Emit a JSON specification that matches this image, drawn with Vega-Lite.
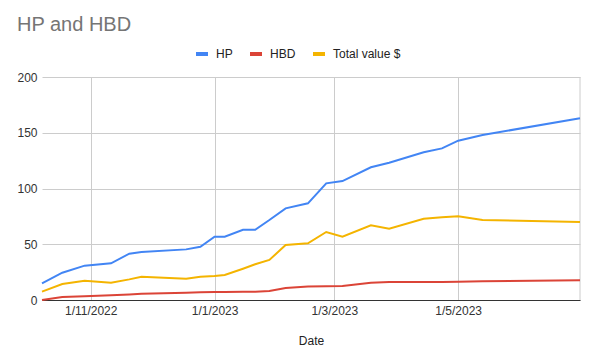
{
  "$schema": "https://vega.github.io/schema/vega-lite/v6.json",
  "width": 538,
  "height": 223,
  "autosize": "none",
  "padding": {"left": 42, "top": 77, "right": 11, "bottom": 58},
  "background": "white",
  "title": {
    "text": "HP and HBD",
    "anchor": "start",
    "frame": "group",
    "dx": -25,
    "fontSize": 20,
    "fontWeight": "normal",
    "font": "Arial, Liberation Sans",
    "color": "#757575",
    "offset": 11
  },
  "config": {
    "font": "Arial, Liberation Sans",
    "view": {"stroke": null}
  },
  "data": {
    "values": [
      {"date": "2022-10-08T00:00:00", "series": "HP", "value": 15},
      {"date": "2022-10-18T00:00:00", "series": "HP", "value": 24.5},
      {"date": "2022-10-29T00:00:00", "series": "HP", "value": 30.8},
      {"date": "2022-11-11T00:00:00", "series": "HP", "value": 32.9},
      {"date": "2022-11-20T00:00:00", "series": "HP", "value": 41.5},
      {"date": "2022-11-26T00:00:00", "series": "HP", "value": 43},
      {"date": "2022-12-18T00:00:00", "series": "HP", "value": 45.4},
      {"date": "2022-12-25T00:00:00", "series": "HP", "value": 47.8},
      {"date": "2023-01-01T00:00:00", "series": "HP", "value": 56.8},
      {"date": "2023-01-06T00:00:00", "series": "HP", "value": 56.8},
      {"date": "2023-01-15T00:00:00", "series": "HP", "value": 63},
      {"date": "2023-01-21T00:00:00", "series": "HP", "value": 63},
      {"date": "2023-01-28T00:00:00", "series": "HP", "value": 71.7},
      {"date": "2023-02-05T00:00:00", "series": "HP", "value": 82.2},
      {"date": "2023-02-16T00:00:00", "series": "HP", "value": 86.7},
      {"date": "2023-02-25T00:00:00", "series": "HP", "value": 104.6},
      {"date": "2023-03-05T00:00:00", "series": "HP", "value": 106.7},
      {"date": "2023-03-19T00:00:00", "series": "HP", "value": 119},
      {"date": "2023-03-28T00:00:00", "series": "HP", "value": 123.1},
      {"date": "2023-04-14T00:00:00", "series": "HP", "value": 132.5},
      {"date": "2023-04-23T00:00:00", "series": "HP", "value": 136},
      {"date": "2023-05-01T00:00:00", "series": "HP", "value": 142.9},
      {"date": "2023-05-13T00:00:00", "series": "HP", "value": 148},
      {"date": "2023-06-30T00:00:00", "series": "HP", "value": 163},
      {"date": "2022-10-08T00:00:00", "series": "HBD", "value": 0},
      {"date": "2022-10-18T00:00:00", "series": "HBD", "value": 2.7},
      {"date": "2022-10-29T00:00:00", "series": "HBD", "value": 3.3},
      {"date": "2022-11-11T00:00:00", "series": "HBD", "value": 4.2},
      {"date": "2022-11-20T00:00:00", "series": "HBD", "value": 5},
      {"date": "2022-11-26T00:00:00", "series": "HBD", "value": 5.7},
      {"date": "2022-12-18T00:00:00", "series": "HBD", "value": 6.6},
      {"date": "2022-12-25T00:00:00", "series": "HBD", "value": 6.9},
      {"date": "2023-01-01T00:00:00", "series": "HBD", "value": 7.2},
      {"date": "2023-01-06T00:00:00", "series": "HBD", "value": 7.2},
      {"date": "2023-01-15T00:00:00", "series": "HBD", "value": 7.3},
      {"date": "2023-01-21T00:00:00", "series": "HBD", "value": 7.3},
      {"date": "2023-01-28T00:00:00", "series": "HBD", "value": 8.1},
      {"date": "2023-02-05T00:00:00", "series": "HBD", "value": 10.8},
      {"date": "2023-02-16T00:00:00", "series": "HBD", "value": 12},
      {"date": "2023-02-25T00:00:00", "series": "HBD", "value": 12.3},
      {"date": "2023-03-05T00:00:00", "series": "HBD", "value": 12.6},
      {"date": "2023-03-19T00:00:00", "series": "HBD", "value": 15.5},
      {"date": "2023-03-28T00:00:00", "series": "HBD", "value": 16.1},
      {"date": "2023-04-14T00:00:00", "series": "HBD", "value": 16.1},
      {"date": "2023-04-23T00:00:00", "series": "HBD", "value": 16.2},
      {"date": "2023-05-01T00:00:00", "series": "HBD", "value": 16.4},
      {"date": "2023-05-13T00:00:00", "series": "HBD", "value": 16.8},
      {"date": "2023-06-30T00:00:00", "series": "HBD", "value": 17.7},
      {"date": "2022-10-08T00:00:00", "series": "Total value $", "value": 7.5},
      {"date": "2022-10-18T00:00:00", "series": "Total value $", "value": 14.3},
      {"date": "2022-10-29T00:00:00", "series": "Total value $", "value": 17.3},
      {"date": "2022-11-11T00:00:00", "series": "Total value $", "value": 15.5},
      {"date": "2022-11-20T00:00:00", "series": "Total value $", "value": 18.5},
      {"date": "2022-11-26T00:00:00", "series": "Total value $", "value": 20.9},
      {"date": "2022-12-18T00:00:00", "series": "Total value $", "value": 19.1},
      {"date": "2022-12-25T00:00:00", "series": "Total value $", "value": 20.9},
      {"date": "2023-01-01T00:00:00", "series": "Total value $", "value": 21.5},
      {"date": "2023-01-06T00:00:00", "series": "Total value $", "value": 22.4},
      {"date": "2023-01-15T00:00:00", "series": "Total value $", "value": 28},
      {"date": "2023-01-21T00:00:00", "series": "Total value $", "value": 32},
      {"date": "2023-01-28T00:00:00", "series": "Total value $", "value": 35.9},
      {"date": "2023-02-05T00:00:00", "series": "Total value $", "value": 49.3},
      {"date": "2023-02-16T00:00:00", "series": "Total value $", "value": 50.8},
      {"date": "2023-02-25T00:00:00", "series": "Total value $", "value": 61},
      {"date": "2023-03-05T00:00:00", "series": "Total value $", "value": 56.8},
      {"date": "2023-03-19T00:00:00", "series": "Total value $", "value": 67},
      {"date": "2023-03-28T00:00:00", "series": "Total value $", "value": 64},
      {"date": "2023-04-14T00:00:00", "series": "Total value $", "value": 72.9},
      {"date": "2023-04-23T00:00:00", "series": "Total value $", "value": 74.2},
      {"date": "2023-05-01T00:00:00", "series": "Total value $", "value": 75},
      {"date": "2023-05-13T00:00:00", "series": "Total value $", "value": 71.7},
      {"date": "2023-06-30T00:00:00", "series": "Total value $", "value": 70}
    ]
  },
  "layer": [
    {
      "mark": {"type": "rule", "color": "#cccccc", "strokeWidth": 1},
      "encoding": {
        "x": {"aggregate": "max", "field": "date", "type": "temporal"}
      }
    },
    {
      "mark": {"type": "line", "strokeWidth": 2, "interpolate": "linear"},
      "encoding": {
        "x": {
          "field": "date",
          "type": "temporal",
          "scale": {"nice": false},
          "axis": {
            "title": "Date",
            "titleFontSize": 12,
            "titleFontWeight": "normal",
            "titleColor": "#222222",
            "titlePadding": 19,
            "values": [
              {"year": 2022, "month": 11, "date": 1},
              {"year": 2023, "month": 1, "date": 1},
              {"year": 2023, "month": 3, "date": 1},
              {"year": 2023, "month": 5, "date": 1}
            ],
            "format": "%-d/%-m/%Y",
            "labelFontSize": 12,
            "labelColor": "#333333",
            "labelPadding": 5,
            "ticks": false,
            "grid": true,
            "gridColor": "#cccccc",
            "domainColor": "#333333",
            "labelOverlap": false,
            "labelFlush": false
          }
        },
        "y": {
          "field": "value",
          "type": "quantitative",
          "scale": {"domain": [0, 200], "nice": false},
          "axis": {
            "title": null,
            "values": [0, 50, 100, 150, 200],
            "labelFontSize": 12,
            "labelColor": "#333333",
            "labelPadding": 5,
            "ticks": false,
            "domain": false,
            "grid": true,
            "gridColor": "#cccccc"
          }
        },
        "color": {
          "field": "series",
          "type": "nominal",
          "scale": {
            "domain": ["HP", "HBD", "Total value $"],
            "range": ["#4285F4", "#DB4437", "#F4B400"]
          },
          "legend": {
            "title": null,
            "orient": "none",
            "direction": "horizontal",
            "legendX": 152,
            "legendY": -31,
            "symbolType": "stroke",
            "symbolSize": 144,
            "symbolStrokeWidth": 4,
            "labelFontSize": 12,
            "labelColor": "#222222",
            "labelOffset": 6,
            "columnPadding": 9
          }
        }
      }
    }
  ]
}
